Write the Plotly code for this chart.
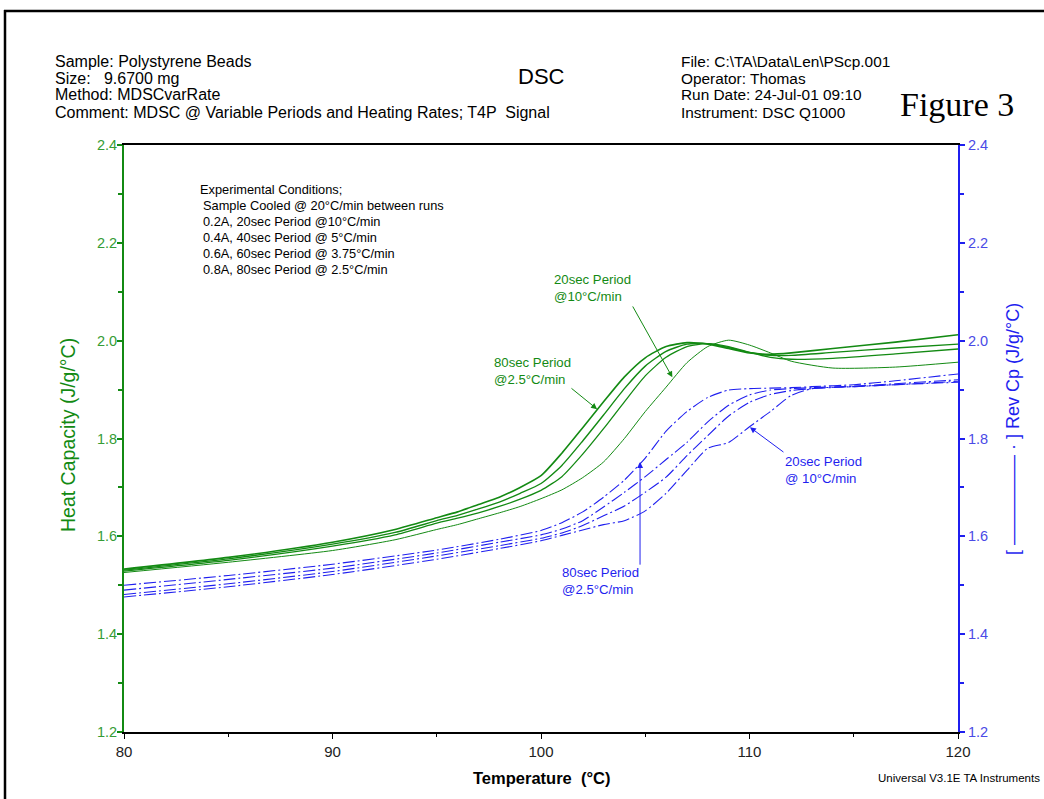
import plotly.graph_objects as go

# ---------------- data ----------------
temp_green = [80, 85, 90, 93, 95, 96, 97, 98, 99, 100, 101, 102, 103, 104, 105,
              106, 107, 108, 109, 110, 111, 112, 114, 117, 120]
cp_80s = [1.533, 1.557, 1.588, 1.614, 1.638, 1.650, 1.665, 1.680, 1.700, 1.724, 1.770, 1.822, 1.875,
          1.926, 1.965, 1.988, 1.996, 1.993, 1.984, 1.975, 1.972, 1.975, 1.984, 1.997, 2.012]
cp_60s = [1.531, 1.554, 1.584, 1.608, 1.632, 1.643, 1.656, 1.670, 1.688, 1.708, 1.745, 1.795, 1.848,
          1.902, 1.948, 1.978, 1.993, 1.994, 1.986, 1.976, 1.970, 1.970, 1.976, 1.985, 1.993]
cp_40s = [1.529, 1.551, 1.580, 1.603, 1.627, 1.637, 1.648, 1.661, 1.676, 1.694, 1.722, 1.768, 1.820,
          1.875, 1.928, 1.966, 1.988, 1.994, 1.988, 1.976, 1.966, 1.962, 1.964, 1.973, 1.983]
cp_20s = [1.526, 1.547, 1.571, 1.593, 1.614, 1.624, 1.636, 1.648, 1.661, 1.677, 1.695, 1.720, 1.752,
          1.800, 1.855, 1.905, 1.955, 1.988, 2.001, 1.991, 1.975, 1.958, 1.944, 1.946, 1.956]

temp_blue = [80, 85, 90, 95, 98, 100, 101, 102, 103, 104, 105, 106, 107, 108, 109,
             110, 111, 112, 113, 115, 117, 120]
rev_80s = [1.500, 1.520, 1.543, 1.572, 1.594, 1.612, 1.628, 1.650, 1.680, 1.715, 1.760, 1.815,
           1.855, 1.884, 1.899, 1.902, 1.903, 1.904, 1.906, 1.910, 1.918, 1.932]
rev_60s = [1.490, 1.512, 1.535, 1.566, 1.588, 1.603, 1.615, 1.632, 1.660, 1.690, 1.722, 1.757,
           1.792, 1.834, 1.868, 1.889, 1.899, 1.902, 1.904, 1.907, 1.912, 1.920]
rev_40s = [1.481, 1.503, 1.528, 1.560, 1.581, 1.596, 1.607, 1.622, 1.642, 1.662, 1.690, 1.721,
           1.765, 1.806, 1.846, 1.874, 1.890, 1.898, 1.902, 1.906, 1.910, 1.917]
rev_20s = [1.476, 1.497, 1.522, 1.553, 1.575, 1.591, 1.602, 1.613, 1.624, 1.632, 1.652, 1.688,
           1.735, 1.780, 1.792, 1.824, 1.855, 1.888, 1.902, 1.906, 1.910, 1.915]

x_ticks = [80, 90, 100, 110, 120]
y_ticks = [1.2, 1.4, 1.6, 1.8, 2.0, 2.2, 2.4]

header_left = ["Sample: Polystyrene Beads", "Size:   9.6700 mg", "Method: MDSCvarRate",
               "Comment: MDSC @ Variable Periods and Heating Rates; T4P  Signal"]
header_right = ["File: C:\\TA\\Data\\Len\\PScp.001", "Operator: Thomas",
                "Run Date: 24-Jul-01 09:10", "Instrument: DSC Q1000"]
conditions = ["Experimental Conditions;", "Sample Cooled @ 20°C/min between runs",
              "0.2A, 20sec Period @10°C/min", "0.4A, 40sec Period @ 5°C/min",
              "0.6A, 60sec Period @ 3.75°C/min", "0.8A, 80sec Period @ 2.5°C/min"]

GREEN = "#138a13"
GREEN_TXT = "#359c35"
BLUE = "#1f1fef"
BLUE_TXT = "#4a4ae6"
FONT = "Liberation Sans, Arial, sans-serif"

# ---------------- layout geometry ----------------
W, H = 1044, 799
L, R, T, B = 124, 958, 145, 732


def px(xp):
    return (xp - L) / (R - L)


def py(yp):
    return (B - yp) / (B - T)


fig = go.Figure()

green_sets = [(cp_80s, 1.6), (cp_60s, 1.4), (cp_40s, 1.3), (cp_20s, 1.0)]
for vals, w in green_sets:
    fig.add_trace(go.Scatter(x=temp_green, y=vals, mode="lines",
                             line=dict(color=GREEN, width=w, shape="spline", smoothing=0.6),
                             showlegend=False, hoverinfo="skip"))

for vals in [rev_80s, rev_60s, rev_40s, rev_20s]:
    fig.add_trace(go.Scatter(x=temp_blue, y=vals, mode="lines", yaxis="y2",
                             line=dict(color=BLUE, width=1.1, dash="12px,3px,2px,3px",
                                       shape="spline", smoothing=0.6),
                             showlegend=False, hoverinfo="skip"))

annotations = []


def add_text(x, y, text, size=13, color="black", xanchor="left", yanchor="middle",
             family=FONT, align="left", textangle=0):
    annotations.append(dict(x=x, y=y, xref="paper", yref="paper", text=text, showarrow=False,
                            xanchor=xanchor, yanchor=yanchor, align=align, textangle=textangle,
                            font=dict(size=size, color=color, family=family)))


for i, line in enumerate(header_left):
    add_text(px(53), py(61 + 17 * i), line, size=16)
for i, line in enumerate(header_right):
    add_text(px(679), py(61 + 17 * i), line, size=15.4)
add_text(px(541), py(77), "DSC", size=22, xanchor="center")
add_text(px(898), py(104), "Figure 3", size=34,
         family="Liberation Serif, Times New Roman, serif")
for i, line in enumerate(conditions):
    add_text(px(198 if i == 0 else 201), py(190 + 15.8 * i), line, size=12.8)
add_text(px(68), py(435), "Heat Capacity (J/g/°C)", size=19.5, color=GREEN,
         xanchor="center", textangle=-90)
add_text(px(1013), py(429), "[ ————— · ] Rev Cp (J/g/°C)", size=18, color=BLUE,
         xanchor="center", textangle=-90)
add_text(px(541), py(778), "<b>Temperature  (°C)</b>", size=16.5, xanchor="center")
add_text(px(1042), py(778), "Universal V3.1E TA Instruments", size=11.5, xanchor="right")


def arrow_note(text, tx, ty, ax, ay, hx, hy, color, yref="y"):
    annotations.append(dict(x=tx, y=ty, xref="x", yref=yref, text=text, showarrow=False,
                            xanchor="left", yanchor="middle", align="left",
                            font=dict(size=13.2, color=color, family=FONT)))
    annotations.append(dict(x=hx, y=hy, xref="x", yref=yref, ax=ax, ay=ay, axref="x",
                            ayref=yref, text="", showarrow=True, arrowhead=2, arrowsize=1.2,
                            arrowwidth=1, arrowcolor=color))


arrow_note("20sec Period<br>@10°C/min", 100.55, 2.108, 104.36, 2.073, 106.3, 1.925, GREEN)
arrow_note("80sec Period<br>@2.5°C/min", 97.65, 1.938, 101.39, 1.905, 102.69, 1.860, GREEN)
arrow_note("20sec Period<br>@ 10°C/min", 111.6, 1.736, 111.7, 1.770, 110.02, 1.823, BLUE, "y2")
arrow_note("80sec Period<br>@2.5°C/min", 100.9, 1.509, 104.75, 1.539, 104.75, 1.752, BLUE, "y2")

shapes = [
    dict(type="line", xref="paper", yref="paper", x0=px(5), x1=px(5), y0=py(10), y1=py(830),
         line=dict(color="black", width=2.5)),
    dict(type="line", xref="paper", yref="paper", x0=px(4), x1=px(1060), y0=py(11), y1=py(11),
         line=dict(color="black", width=2.5)),
]

fig.update_layout(
    width=W, height=H,
    margin=dict(l=L, r=W - R, t=T, b=H - B),
    paper_bgcolor="white", plot_bgcolor="white",
    font=dict(family=FONT),
    annotations=annotations, shapes=shapes,
    xaxis=dict(range=[80, 120], tickvals=x_ticks, showgrid=False, zeroline=False,
               showline=True, linecolor="black", linewidth=1.5, mirror=True,
               ticks="outside", ticklen=5, tickcolor="black", tickwidth=1,
               minor=dict(dtick=5, ticks="outside", ticklen=3, tickcolor="black"),
               tickfont=dict(size=15, color="#222"), fixedrange=True),
    yaxis=dict(range=[1.2, 2.4], tickvals=y_ticks, tickformat=".1f", showgrid=False,
               zeroline=False, showline=True, linecolor=GREEN, linewidth=2,
               ticks="outside", ticklen=5, tickcolor=GREEN, tickwidth=1.5,
               ticklabelstandoff=-3,
               minor=dict(dtick=0.1, ticks="outside", ticklen=4, tickcolor=GREEN),
               tickfont=dict(size=14.5, color=GREEN_TXT)),
    yaxis2=dict(range=[1.2, 2.4], tickvals=y_ticks, tickformat=".1f", showgrid=False,
                zeroline=False, showline=True, linecolor=BLUE, linewidth=2,
                overlaying="y", side="right",
                ticks="outside", ticklen=5, tickcolor=BLUE, tickwidth=1.5,
                minor=dict(dtick=0.1, ticks="outside", ticklen=4, tickcolor=BLUE),
                tickfont=dict(size=14.5, color=BLUE_TXT)),
)

fig.write_html("out.html", config={"displayModeBar": False},
               post_script="document.body.style.margin='0px';"
                           "document.body.style.overflow='hidden';")
